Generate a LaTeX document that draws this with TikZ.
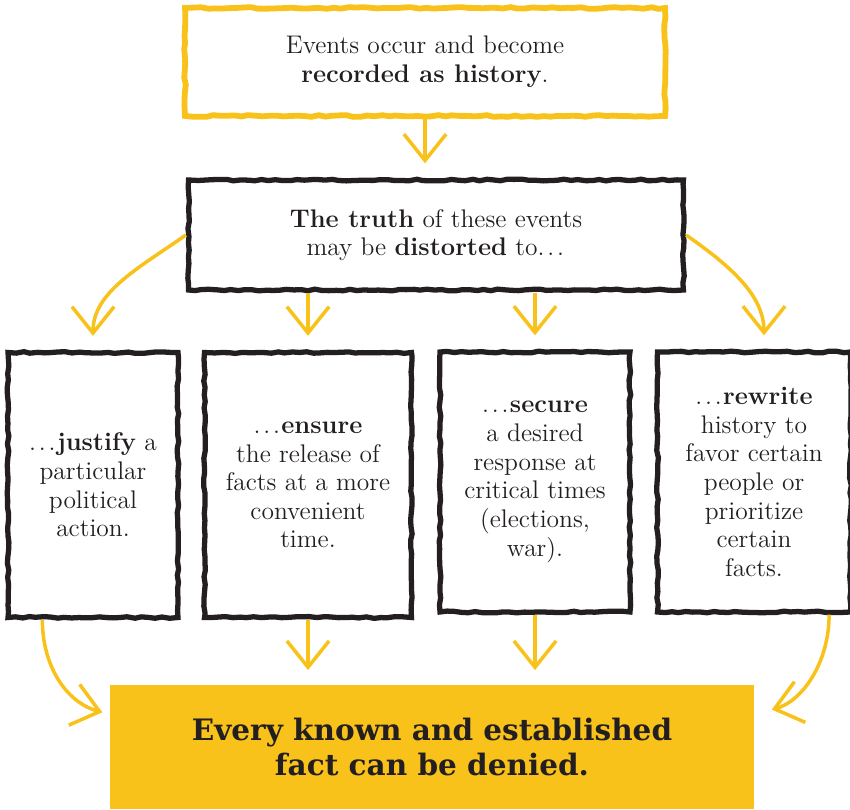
\documentclass[tikz,border=0pt]{standalone}
\usepackage{fontspec}
\usepackage{tikz}
\usetikzlibrary{arrows.meta,decorations.pathmorphing}
\newfontfamily\slabfont{DejaVu Serif}
\definecolor{sunyellow}{HTML}{F8C21A}
\definecolor{inkblack}{HTML}{231F20}
\newcommand{\elide}{.\kern1.6pt.\kern1.6pt.\kern0.8pt}

\begin{document}
\begin{tikzpicture}[x=0.02cm, y=0.02cm, >={Straight Barb[length=15pt,width=24pt]}]
  \tikzstyle{sketch}=[decorate, decoration={random steps, segment length=4pt, amplitude=0.5pt}]
  \tikzstyle{inkbox}=[rectangle, draw=inkblack, line width=3pt, fill=white, text=inkblack, align=center, sketch, font=\fontsize{14.5}{16.3}\selectfont]
  \tikzstyle{colbox}=[inkbox, minimum height=5.3cm]
  \tikzstyle{arrow}=[->, draw=sunyellow, line width=2pt, shorten >=8pt]
  \useasboundingbox (0,0) rectangle (850,-810);
  \node[inkbox, draw=sunyellow, line width=3.3pt, minimum width=9.6cm, minimum height=2.16cm] (events) at (425,-62) {Events occur and become\\\textbf{recorded as history}.};
  \node[inkbox, minimum width=9.9cm, minimum height=2.2cm] (truth) at (436,-235) {\textbf{The truth} of these events\\may be \textbf{distorted} to\elide};
  \node[colbox, minimum width=3.4cm] (justify) at (93,-485) {\elide\textbf{justify} a\\particular\\political\\action.};
  \node[colbox, minimum width=4.14cm] (ensure) at (308,-485) {\elide\textbf{ensure}\\the release of\\facts at a more\\convenient\\time.};
  \node[colbox, minimum width=3.8cm, minimum height=5.2cm] (secure) at (535,-482) {\elide\textbf{secure}\\a desired\\response at\\critical times\\(elections,\\war).};
  \node[colbox, minimum width=3.86cm, minimum height=5.2cm] (rewrite) at (754,-482) {\elide\textbf{rewrite}\\history to\\favor certain\\people or\\prioritize\\certain\\facts.};
  \node[rectangle, fill=sunyellow, text=inkblack, align=center, minimum width=12.9cm, minimum height=2.5cm, font=\slabfont\bfseries\fontsize{16.8}{20}\selectfont] (denied) at (432,-747) {Every known and established\\fact can be denied.};
  \draw[arrow] (events.south) -- (events.south |- truth.north);
  \draw[arrow] (truth.west) to[out=215, in=90] (justify.north);
  \draw[arrow] (truth.south -| ensure.north) -- (ensure.north);
  \draw[arrow] (truth.south -| secure.north) -- (secure.north);
  \draw[arrow] (truth.east) to[out=-35, in=90] ([xshift=0.2cm]rewrite.north);
  \draw[arrow, shorten >=4pt] ([xshift=0.74cm]justify.south west) to[out=-90, in=165] ([yshift=-0.6cm]denied.north west);
  \draw[arrow] (justify.south -| ensure.south) -- (ensure.south |- denied.north);
  \draw[arrow] (secure.south) -- (secure.south |- denied.north);
  \draw[arrow, shorten >=10pt] ([xshift=-0.48cm]rewrite.south east) to[out=-90, in=15] ([yshift=-0.6cm]denied.north east);
\end{tikzpicture}
\end{document}
